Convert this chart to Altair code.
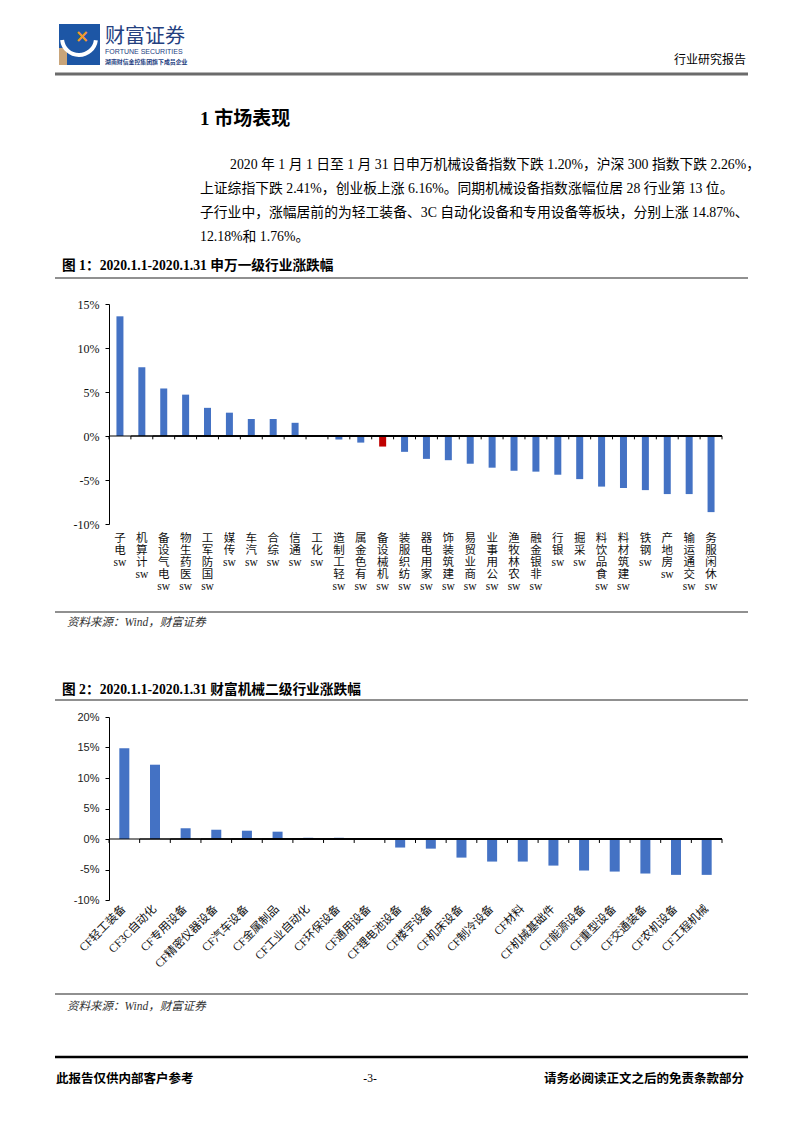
import altair as alt
import pandas as pd

# ---------------- data ----------------
sw_names = ["sw电子", "sw计算机", "sw电气设备", "sw医药生物", "sw国防军工", "sw传媒", "sw汽车",
            "sw综合", "sw通信", "sw化工", "sw轻工制造", "sw有色金属", "sw机械设备", "sw纺织服装",
            "sw家用电器", "sw建筑装饰", "sw商业贸易", "sw公用事业", "sw农林牧渔", "sw非银金融",
            "sw银行", "sw采掘", "sw食品饮料", "sw建筑材料", "sw钢铁", "sw房地产", "sw交通运输",
            "sw休闲服务"]
sw_values = [13.6, 7.8, 5.4, 4.7, 3.2, 2.65, 1.93, 1.93, 1.5, 0.05, -0.4, -0.75, -1.2, -1.8,
             -2.6, -2.75, -3.15, -3.6, -3.95, -4.05, -4.4, -4.9, -5.75, -5.9, -6.15, -6.6, -6.6,
             -8.65]
sw_highlight = "sw机械设备"

cf_names = ["CF轻工装备", "CF3C自动化", "CF专用设备", "CF精密仪器设备", "CF汽车设备", "CF金属制品",
            "CF工业自动化", "CF环保设备", "CF通用设备", "CF锂电池设备", "CF楼宇设备", "CF机床设备",
            "CF制冷设备", "CF材料", "CF机械基础件", "CF能源设备", "CF重型设备", "CF交通装备",
            "CF农机设备", "CF工程机械"]
cf_values = [14.87, 12.18, 1.76, 1.52, 1.36, 1.2, 0.2, 0.2, 0.05, -1.4, -1.58, -3.05, -3.7, -3.7,
             -4.36, -5.17, -5.34, -5.66, -5.88, -5.88]

y1_ticks = [-10, -5, 0, 5, 10, 15]
y2_ticks = [-10, -5, 0, 5, 10, 15, 20]

para_lines = [
    "2020 年 1 月 1 日至 1 月 31 日申万机械设备指数下跌 1.20%，沪深 300 指数下跌 2.26%，",
    "上证综指下跌 2.41%，创业板上涨 6.16%。同期机械设备指数涨幅位居 28 行业第 13 位。",
    "子行业中，涨幅居前的为轻工装备、3C 自动化设备和专用设备等板块，分别上涨 14.87%、",
    "12.18%和 1.76%。",
]
fig1_title = "图 1：2020.1.1-2020.1.31 申万一级行业涨跌幅"
fig2_title = "图 2：2020.1.1-2020.1.31 财富机械二级行业涨跌幅"
source_text = "资料来源：Wind，财富证券"

SERIF = "Liberation Serif, Noto Sans CJK SC"
SANS = "Liberation Sans, Noto Sans CJK SC"
CJK = "Noto Sans CJK SC"
BLUE = "#4472C4"
RED = "#C00000"
W = 613

dummy = pd.DataFrame({"a": [1]})


def txt(s, x, y, size, align="left", font=SERIF, weight="normal", style="normal", color="#000"):
    return alt.Chart(dummy).mark_text(
        text=s, fontSize=size, align=align, baseline="middle", font=font,
        fontWeight=weight, fontStyle=style, color=color
    ).encode(x=alt.value(x), y=alt.value(y))


def hline(x1, x2, y, color="#000", width=1.0):
    return alt.Chart(dummy).mark_rule(color=color, strokeWidth=width).encode(
        x=alt.value(x1), x2=alt.value(x2), y=alt.value(y))


# ---------------- panel A: header, paragraph, fig 1 title ----------------
bg = alt.Chart(dummy).mark_rect(color="white").encode(
    x=alt.value(-101), x2=alt.value(685), y=alt.value(0), y2=alt.value(296))
logo_sq = alt.Chart(dummy).mark_rect(color="#1d56a5").encode(
    x=alt.value(-50), x2=alt.value(-9), y=alt.value(16), y2=alt.value(57))
logo_tan = alt.Chart(dummy).mark_rect(color="#c9a57a").encode(
    x=alt.value(-50), x2=alt.value(-42), y=alt.value(40), y2=alt.value(57))
logo_arc = alt.Chart(dummy).mark_arc(color="white", innerRadius=15, outerRadius=19,
                                     theta=1.7, theta2=4.6).encode(
    x=alt.value(-30), y=alt.value(30))
logo_x = txt("×", -27, 29, 17, align="center", font="DejaVu Sans", weight="bold", color="#f39a2b")

panelA = alt.layer(
    bg, logo_sq, logo_tan, logo_arc, logo_x,
    txt("财富证券", -4, 29, 20, font=CJK, color="#24407f"),
    txt("FORTUNE SECURITIES", -4, 44, 7, font="Liberation Sans", color="#24407f"),
    txt("湖南财信金控集团旗下成员企业", -4, 54, 5.9, font=CJK, weight="bold", color="#24407f"),
    txt("行业研究报告", 637, 52, 12, align="right", font=SERIF),
    hline(-54, 639, 66, color="#6b6b6b", width=3),
    txt("1 市场表现", 91, 111, 19, font=SERIF, weight="bold"),
    txt(para_lines[0], 121, 157, 13.8),
    txt(para_lines[1], 91, 181, 13.8),
    txt(para_lines[2], 91, 205, 13.8),
    txt(para_lines[3], 91, 229, 13.8),
    txt(fig1_title, -47, 258, 13.7, weight="bold"),
    hline(-54, 639, 270, color="#222", width=1.2),
).properties(width=W, height=296)

# ---------------- panel B: chart 1 ----------------
df1 = pd.DataFrame({"cat": sw_names, "val": sw_values,
                    "hl": [n == sw_highlight for n in sw_names]})

label1 = "split(join(reverse(split(substring(datum.label, 2), '')), '|') + '|sw', '|')"


def x1(bp):
    return alt.X("cat:N", sort=None, bandPosition=bp, title=None,
                 scale=alt.Scale(paddingInner=0, paddingOuter=0),
                 axis=alt.Axis(domain=False, ticks=False, labelAngle=0, labelAlign="center",
                               labelBaseline="top", labelPadding=8, labelFont=SERIF,
                               labelFontSize=11.5, labelLineHeight=12, labelColor="#111",
                               labelOverlap=False, labelExpr=label1))


y1_axis = alt.Axis(values=y1_ticks, tickCount=len(y1_ticks), labelExpr="datum.value + '%'",
                   grid=False, domainColor="#000", tickColor="#000", tickSize=4, labelPadding=6,
                   labelFont=SERIF, labelFontSize=12, labelColor="#111", labelOverlap=False)
y1_scale = alt.Scale(domain=[-10, 15], nice=False)
y1 = alt.Y("val:Q", title=None, scale=y1_scale, axis=y1_axis)

bars1 = alt.Chart(df1).mark_bar(size=7).encode(
    x=x1(0.5), y=y1, y2=alt.datum(0),
    color=alt.condition("datum.hl", alt.value(RED), alt.value(BLUE)))
zero1 = alt.Chart(df1).mark_rule(color="#000", strokeWidth=1).encode(
    x=x1(0), x2=alt.value(W), y=alt.YDatum(0, scale=y1_scale, axis=y1_axis, title=None))
ticks1 = alt.Chart(df1).mark_rule(color="#000").encode(
    x=x1(0), y=alt.YDatum(0, scale=y1_scale, axis=y1_axis, title=None), y2=alt.datum(-0.38))
tick1_end = alt.Chart(df1).transform_filter(alt.datum.cat == sw_names[-1]).mark_rule(
    color="#000").encode(x=x1(1), y=alt.YDatum(0, scale=y1_scale, axis=y1_axis, title=None),
                         y2=alt.datum(-0.38))

panelB = alt.layer(bars1, ticks1, tick1_end, zero1).properties(width=W, height=220)

# ---------------- panel C: source 1, fig 2 title ----------------
panelC = alt.layer(
    hline(-54, 639, 88, color="#222", width=1.2),
    txt(source_text, -42, 99, 11.5, style="italic", color="#333"),
    txt(fig2_title, -47, 166, 13.7, weight="bold"),
    hline(-54, 639, 176, color="#222", width=1.2),
).properties(width=W, height=193)

# ---------------- panel D: chart 2 ----------------
df2 = pd.DataFrame({"cat": cf_names, "val": cf_values})


def x2(bp):
    return alt.X("cat:N", sort=None, bandPosition=bp, title=None,
                 scale=alt.Scale(paddingInner=0, paddingOuter=0),
                 axis=alt.Axis(domain=False, ticks=False, labelAngle=-45, labelAlign="right",
                               labelBaseline="middle", labelPadding=7, labelFont=SERIF,
                               labelFontSize=11.5, labelColor="#111", labelOverlap=False,
                               labelLimit=200))


y2_axis = alt.Axis(values=y2_ticks, tickCount=len(y2_ticks), labelExpr="datum.value + '%'",
                   grid=False, domainColor="#000", tickColor="#000", tickSize=4, labelPadding=6,
                   labelFont=SANS, labelFontSize=11, labelColor="#222", labelOverlap=False)
y2_scale = alt.Scale(domain=[-10, 20], nice=False)
y2 = alt.Y("val:Q", title=None, scale=y2_scale, axis=y2_axis)

bars2 = alt.Chart(df2).mark_bar(size=10, color=BLUE).encode(x=x2(0.5), y=y2, y2=alt.datum(0))
zero2 = alt.Chart(df2).mark_rule(color="#000", strokeWidth=1).encode(
    x=x2(0), x2=alt.value(W), y=alt.YDatum(0, scale=y2_scale, axis=y2_axis, title=None))
ticks2 = alt.Chart(df2).mark_rule(color="#000").encode(
    x=x2(0), y=alt.YDatum(0, scale=y2_scale, axis=y2_axis, title=None), y2=alt.datum(-0.65))
tick2_end = alt.Chart(df2).transform_filter(alt.datum.cat == cf_names[-1]).mark_rule(
    color="#000").encode(x=x2(1), y=alt.YDatum(0, scale=y2_scale, axis=y2_axis, title=None),
                         y2=alt.datum(-0.65))

panelD = alt.layer(bars2, ticks2, tick2_end, zero2).properties(width=W, height=183)

# ---------------- panel E: source 2, footer ----------------
panelE = alt.layer(
    hline(-54, 639, 94, color="#222", width=1.2),
    txt(source_text, -42, 107, 11.5, style="italic", color="#333"),
    hline(-54, 639, 157, color="#000", width=2.5),
    txt("此报告仅供内部客户参考", -53, 179, 12.5, weight="bold"),
    txt("-3-", 261, 179, 11.5, align="center"),
    txt("请务必阅读正文之后的免责条款部分", 635, 179, 12.5, align="right", weight="bold"),
).properties(width=W, height=200)

chart = alt.vconcat(panelA, panelB, panelC, panelD, panelE, spacing=0, bounds="flush").properties(
    padding=0
).configure_view(stroke=None)

chart.save("out.html", embed_options={"renderer": "svg", "actions": False})
